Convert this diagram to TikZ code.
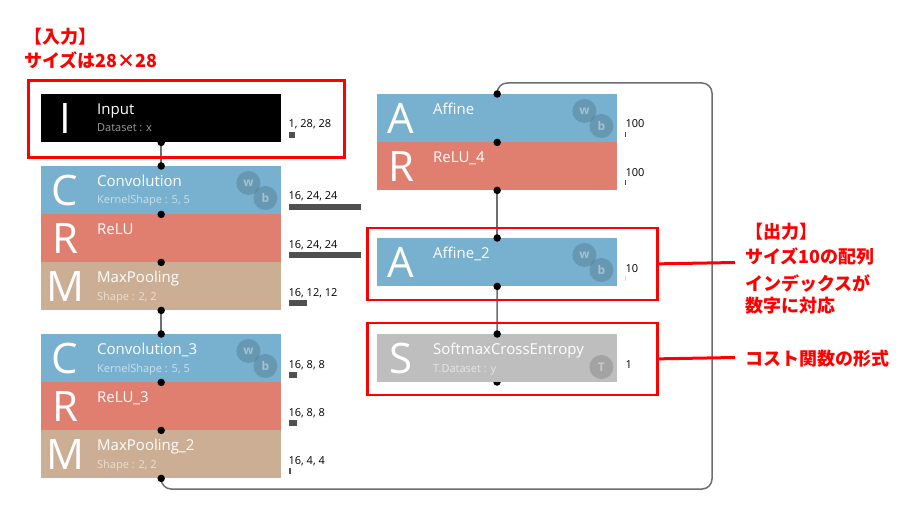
\documentclass[tikz,border=0pt]{standalone}
\usepackage{fontspec}
\setmainfont{Open Sans}
\newfontfamily\jp{Noto Sans CJK JP}
\usetikzlibrary{calc}
\definecolor{cblue}{HTML}{78B1CF}
\definecolor{cred}{HTML}{E07E6F}
\definecolor{ctan}{HTML}{CBAE93}
\definecolor{cgray}{HTML}{BEBEBE}
\definecolor{cbar}{HTML}{505050}
\definecolor{clink}{HTML}{6E6E6E}
\definecolor{annot}{HTML}{FF0000}
\tikzset{
  blk/.style={minimum width=240pt, minimum height=48pt, inner sep=0pt, anchor=north west, draw=none},
  bigl/.style={text=white, font=\fontsize{42}{42}\selectfont, inner sep=0pt},
  ttl/.style={text=white, font=\fontsize{15}{17}\selectfont, inner sep=0pt, anchor=base west},
  subt/.style={text=white, text opacity=0.6, font=\fontsize{11}{13}\selectfont, inner sep=0pt, anchor=base west},
  sz/.style={text=black, font=\fontsize{11}{13}\selectfont, inner sep=0pt, anchor=base west},
  bar/.style={fill=cbar},
  dot/.style={circle, fill=black, inner sep=0pt, minimum size=7.5pt},
  link/.style={draw=clink, line width=1.5pt},
  wc/.style={circle, fill=black, fill opacity=0.14, text opacity=1, inner sep=0pt, minimum size=24pt},
  wl/.style={text=white, text opacity=0.4, font=\fontsize{12}{12}\selectfont\bfseries, inner sep=0pt},
  redbox/.style={draw=annot, line width=2.7pt, inner sep=0pt, anchor=north west},
  redline/.style={draw=annot, line width=3pt},
  jtxt/.style={text=annot, font=\jp\bfseries\fontsize{18}{20}\selectfont, inner sep=0pt, anchor=west},
}
\begin{document}
\begin{tikzpicture}[x=1pt,y=-1pt]
\useasboundingbox (0,0) rectangle (916,516);
\fill[white] (0,0) rectangle (916,516);

% blocks
\node[blk, fill=black] (in) at (41,94) {};
\node[blk, fill=cblue] (conv) at (41,166) {};
\node[blk, fill=cred] (relu) at (41,214) {};
\node[blk, fill=ctan] (mp) at (41,262) {};
\node[blk, fill=cblue] (conv3) at (41,334) {};
\node[blk, fill=cred] (relu3) at (41,382) {};
\node[blk, fill=ctan] (mp2) at (41,430) {};
\node[blk, fill=cblue] (aff) at (377,94) {};
\node[blk, fill=cred] (relu4) at (377,142) {};
\node[blk, fill=cblue] (aff2) at (377,238) {};

% connectors
\draw[link] (in.south) -- (conv.north);
\draw[link] (mp.south) -- (conv3.north);
\draw[link] (relu4.south) -- (aff2.north);
\coordinate (loopBR) at (712,489);
\coordinate (loopTR) at (712,83);
\draw[link, rounded corners=10pt] (mp2.south) |- (loopBR) -- (loopTR) -| (aff.north);
\coordinate (smtop) at (497,334);
\coordinate (smbot) at (497,382);
\draw[link] (aff2.south) -- (smtop);
\node[dot] at (smbot) {};
\node[blk, fill=cgray] (sm) at (377,334) {};

% big letters
\foreach \n/\l in {in/I, conv/C, relu/R, mp/M, conv3/C, relu3/R, mp2/M, aff/A, relu4/R, aff2/A, sm/S}
  \node[bigl] at ($(\n.west)+(24,0)$) {\l};

% titles
\foreach \n/\t in {in/Input, conv/Convolution, relu/ReLU, mp/MaxPooling, conv3/Convolution\_3, relu3/ReLU\_3, mp2/MaxPooling\_2, aff/Affine, relu4/ReLU\_4, aff2/Affine\_2, sm/SoftmaxCrossEntropy}
  \node[ttl] at ($(\n.north west)+(56,20.5)$) {\t};

% subtitles
\node[subt] at ($(in.north west)+(56,38)$) {Dataset : x};
\node[subt] at ($(conv.north west)+(56,38)$) {KernelShape : 5, 5};
\node[subt] at ($(mp.north west)+(56,38)$) {Shape : 2, 2};
\node[subt] at ($(conv3.north west)+(56,38)$) {KernelShape : 5, 5};
\node[subt] at ($(mp2.north west)+(56,38)$) {Shape : 2, 2};
\node[subt] at ($(sm.north west)+(56,38)$) {T.Dataset : y};

% w / b circles
\foreach \n in {conv, conv3, aff, aff2} {
  \node[wc] at ($(\n.north east)+(-33,17)$) {};
  \node[wc] at ($(\n.north east)+(-16,32)$) {};
  \node[wl] at ($(\n.north east)+(-33,17)$) {w};
  \node[wl] at ($(\n.north east)+(-16,32)$) {b};
}
\node[wc] at ($(sm.north east)+(-16,33)$) {};
\node[wl] at ($(sm.north east)+(-16,33)$) {T};

% size labels and bars
\foreach \n/\t/\w in {in/{1, 28, 28}/6, conv/{16, 24, 24}/72, relu/{16, 24, 24}/72, mp/{16, 12, 12}/18, conv3/{16, 8, 8}/8, relu3/{16, 8, 8}/8, mp2/{16, 4, 4}/1.5} {
  \node[sz] at ($(\n.north east)+(7,34)$) {\t};
  \fill[bar] ($(\n.north east)+(8,38)$) rectangle ++(\w,6);
}
\foreach \n/\t in {aff/100, relu4/100, aff2/10, sm/1}
  \node[sz] at ($(\n.north east)+(8,34)$) {\t};
\fill[cbar] ($(aff.north east)+(8,38)$) rectangle ++(1,5);
\fill[cbar] ($(relu4.north east)+(8,38)$) rectangle ++(1,5);
\fill[black!15] ($(aff2.north east)+(8,38)$) rectangle ++(1,5);

% dots
\foreach \p in {in.south, conv.north, conv.south, relu.south, mp.south, conv3.north, conv3.south, relu3.south, mp2.south, aff.north, aff.south, relu4.south, aff2.north, aff2.south, sm.north}
  \node[dot] at (\p) {};

% annotations
\node[redbox, minimum width=316pt, minimum height=77pt] (rb1) at (27,79) {};
\node[redbox, minimum width=290pt, minimum height=72pt] (rb2) at (366,226.5) {};
\node[redbox, minimum width=290pt, minimum height=72pt] (rb3) at (366,321.5) {};
\coordinate (e2) at (735,262.5);
\coordinate (e3) at (735,357.5);
\draw[redline] (rb2.east) -- (e2);
\draw[redline] (rb3.east) -- (e3);

\node[jtxt] (j1) at (24,36.5) {【入力】};
\node[jtxt] (j2) at (24,60.5) {サイズは28×28};
\node[jtxt] (j3) at (745,232) {【出力】};
\node[jtxt] (j4) at (745,256) {サイズ10の配列};
\node[jtxt] (j5) at (745,284) {インデックスが};
\node[jtxt] (j6) at (745,306) {数字に対応};
\node[jtxt] (j7) at (745,359) {コスト関数の形式};
\end{tikzpicture}
\end{document}
